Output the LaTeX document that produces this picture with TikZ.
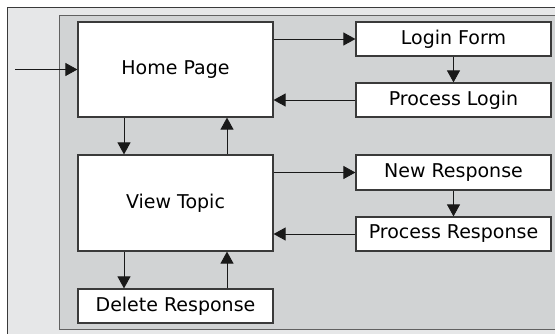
\documentclass[tikz,border=0pt]{standalone}
\usepackage{fontspec}
\setmainfont{DejaVu Sans}
\usetikzlibrary{arrows.meta}
\definecolor{outerbg}{HTML}{E6E7E8}
\definecolor{innerbg}{HTML}{D1D3D4}
\definecolor{edge}{HTML}{3A3A3A}
\begin{document}
\begin{tikzpicture}[x=1pt,y=-1pt,
  box/.style={draw=edge,line width=1.2pt,fill=white,rectangle,minimum width=195pt,inner sep=0pt,font=\fontsize{19}{22}\selectfont},
  arr/.style={draw=black!90,line width=0.9pt,-{Triangle[length=12pt,width=13pt]}}]
\useasboundingbox (0,0) rectangle (555,333);
\clip (0,0) rectangle (555,333);
\fill[outerbg,draw=edge,line width=1pt] (7,7) rectangle (570,345);
\fill[innerbg,draw=edge!80,line width=1pt] (59,15) rectangle (570,329);
\node[box,minimum height=95pt] (home) at (175.5,69.5) {Home Page};
\node[box,minimum height=96pt] (view) at (175.5,203) {View Topic};
\node[box,minimum height=34pt] (del) at (175.5,306) {Delete Response};
\node[box,minimum height=34pt] (login) at (453.5,39) {Login Form};
\node[box,minimum height=34pt] (plogin) at (453.5,100) {Process Login};
\node[box,minimum height=35pt] (newr) at (453.5,172.5) {New Response};
\node[box,minimum height=34pt] (presp) at (453.5,234) {Process Response};
\coordinate (entry) at (15,69.5);
\draw[arr] (entry) -- (home.west);
\draw[arr] (login.west -| home.east) -- (login.west);
\draw[arr] (login.south) -- (plogin.north);
\draw[arr] (plogin.west) -- (plogin.west -| home.east);
\draw[arr] ([xshift=-51.5pt]home.south) -- ([xshift=-51.5pt]view.north);
\draw[arr] ([xshift=51.5pt]view.north) -- ([xshift=51.5pt]home.south);
\draw[arr] (newr.west -| view.east) -- (newr.west);
\draw[arr] (newr.south) -- (presp.north);
\draw[arr] (presp.west) -- (presp.west -| view.east);
\draw[arr] ([xshift=-51.5pt]view.south) -- ([xshift=-51.5pt]del.north);
\draw[arr] ([xshift=51.5pt]del.north) -- ([xshift=51.5pt]view.south);
\end{tikzpicture}
\end{document}
